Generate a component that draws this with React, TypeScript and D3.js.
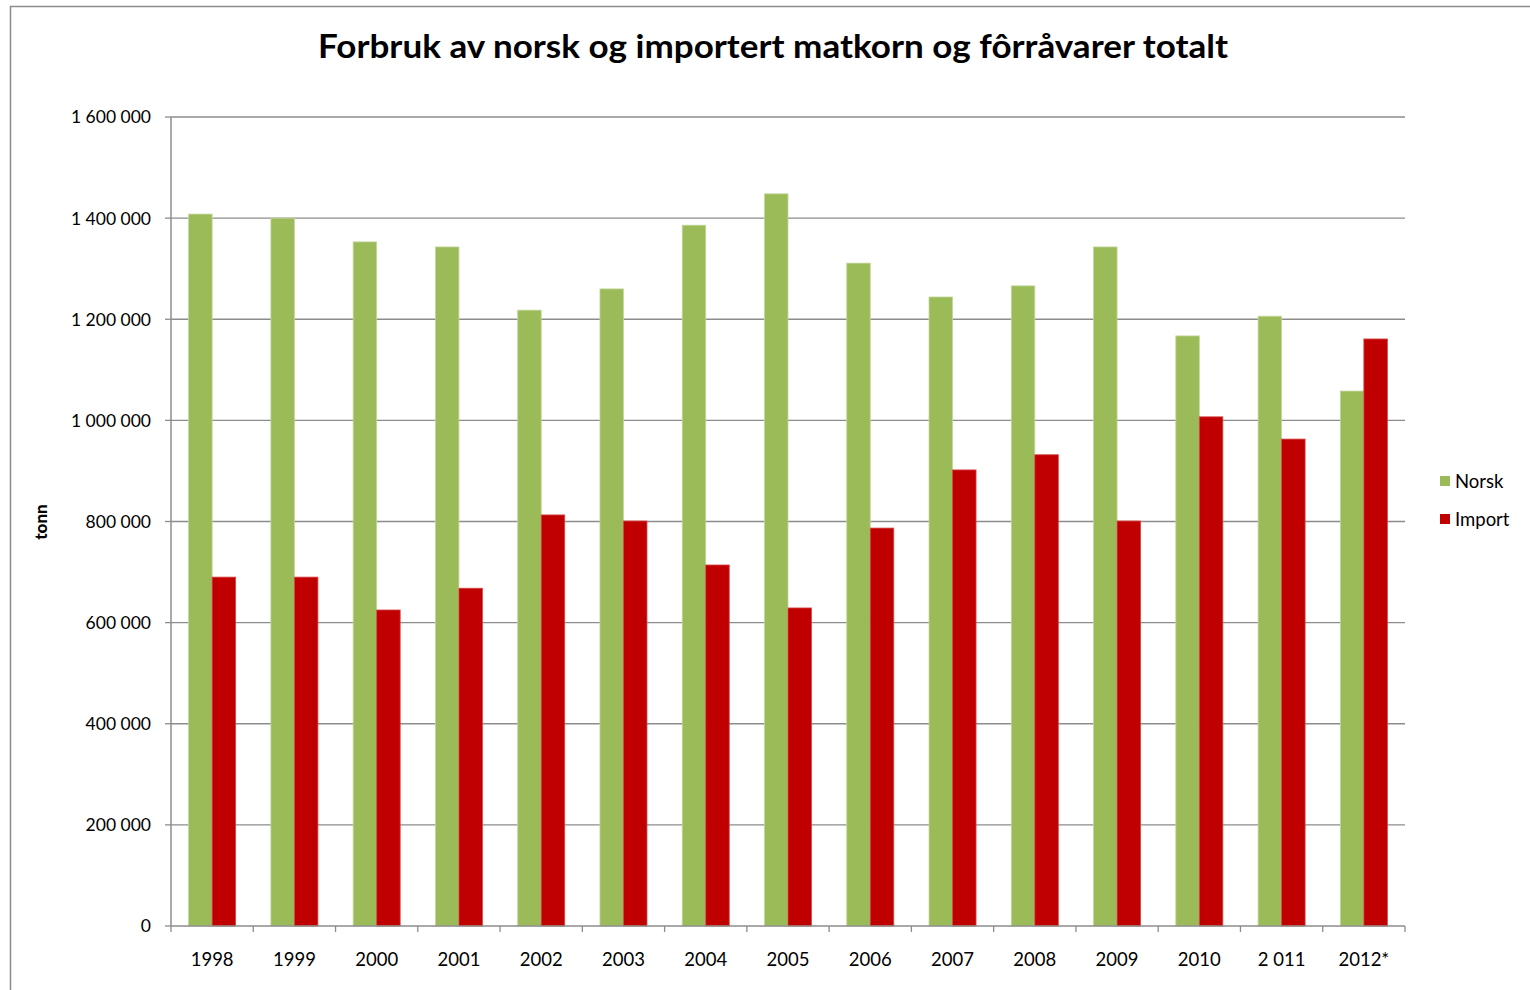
import React from "react";
import * as d3 from "d3";

const categories = ["1998","1999","2000","2001","2002","2003","2004","2005","2006","2007","2008","2009","2010","2 011","2012*"];
const norsk = [1408000,1400000,1353000,1343000,1218000,1260000,1386000,1448000,1311000,1244000,1266000,1343000,1167000,1206000,1058000];
const importVals = [690000,690000,625000,668000,813000,801000,714000,629000,787000,902000,932000,801000,1007000,963000,1161000];
const yTicks = [0,200000,400000,600000,800000,1000000,1200000,1400000,1600000];
const seriesNames = ["Norsk","Import"];
const colors = ["#9BBB59","#C00000"];

const W = 1530, H = 990;
const left = 171, right = 1405, top = 117, bottom = 926;
const FONT = "Lato, 'Open Sans', sans-serif";

function fmt(v: number) {
  return d3.format(",")(v).replace(/,/g, " ");
}

export default function App() {
  const x = d3.scaleBand<string>().domain(categories).range([left, right]).paddingInner(0).paddingOuter(0);
  const y = d3.scaleLinear().domain([0, 1600000]).range([bottom, top]);
  const bw = x.bandwidth() / 3.5;
  const series = [norsk, importVals];
  return (
    <svg width={W} height={H} style={{ position: "absolute", left: 0, top: 0 }} fontFamily={FONT}>
      <rect x={0} y={0} width={W} height={H} fill="#fff" />
      <rect x={10.5} y={6.5} width={W + 10} height={H + 10} fill="none" stroke="#8c8c8c" strokeWidth={1.5} />
      <text x={773} y={50} textAnchor="middle" dominantBaseline="middle" fontSize={33} fontWeight="bold" fill="#000"
        textLength={910} lengthAdjust="spacingAndGlyphs">
        Forbruk av norsk og importert matkorn og fôrråvarer totalt
      </text>
      {yTicks.map((t) => (
        <g key={t}>
          {t > 0 && <line x1={left} x2={right} y1={y(t)} y2={y(t)} stroke="#8c8c8c" strokeWidth={1.3} />}
          <line x1={left - 6} x2={left} y1={y(t)} y2={y(t)} stroke="#8c8c8c" strokeWidth={1.3} />
          <text x={151} y={y(t) + 2} textAnchor="end" dominantBaseline="middle" fontSize={17.5} fill="#000">{fmt(t)}</text>
        </g>
      ))}
      {categories.map((c, i) => (
        <g key={c}>
          {series.map((s, j) => (
            <rect key={j} x={(x(c) as number) + 0.75 * bw + j * bw} y={y(s[i])} width={bw} height={bottom - y(s[i])}
              fill={colors[j]} stroke={j === 0 ? "#c3d69b" : "#d64545"} strokeWidth={0.8} />
          ))}
          <text x={(x(c) as number) + x.bandwidth() / 2} y={961} textAnchor="middle" dominantBaseline="middle" fontSize={18.5} fill="#000">{c}</text>
        </g>
      ))}
      {d3.range(categories.length + 1).map((i) => {
        const xx = left + i * x.bandwidth();
        return <line key={i} x1={xx} x2={xx} y1={bottom} y2={bottom + 6} stroke="#8c8c8c" strokeWidth={1.3} />;
      })}
      <line x1={left} x2={left} y1={top} y2={bottom} stroke="#8c8c8c" strokeWidth={1.5} />
      <line x1={left} x2={right} y1={bottom} y2={bottom} stroke="#8c8c8c" strokeWidth={1.5} />
      <text transform={`translate(43,522) rotate(-90)`} textAnchor="middle" dominantBaseline="middle" fontSize={17} fontWeight={900} fill="#000">tonn</text>
      {seriesNames.map((n, j) => (
        <g key={n}>
          <rect x={1440} y={476 + j * 38} width={10} height={10} fill={colors[j]} />
          <text x={1455} y={483 + j * 38} dominantBaseline="middle" fontSize={18.5} fill="#000">{n}</text>
        </g>
      ))}
    </svg>
  );
}
